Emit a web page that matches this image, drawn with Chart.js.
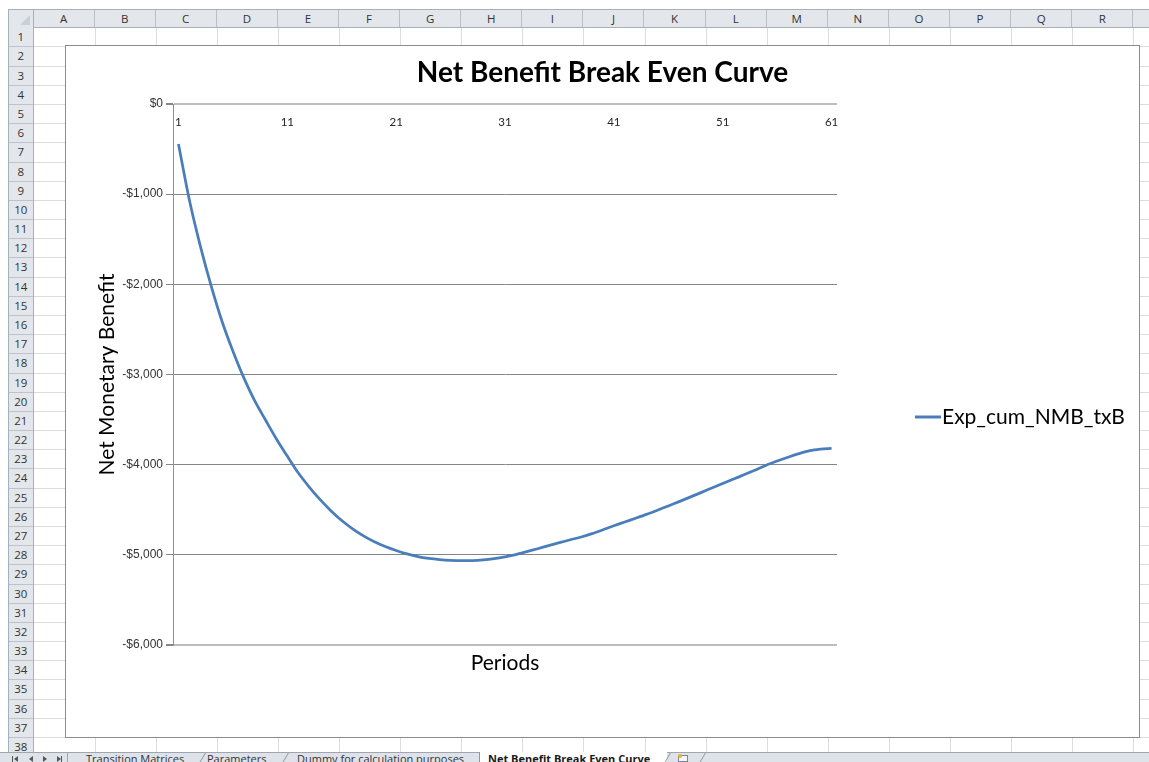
<!DOCTYPE html>
<html>
<head>
<meta charset="utf-8">
<title>Net Benefit Break Even Curve</title>
<script src="https://cdn.jsdelivr.net/npm/chart.js@4.4.1/dist/chart.umd.min.js"></script>
<style>
  html, body { margin: 0; padding: 0; background: #ffffff; }
  #sheet { position: relative; width: 1149px; height: 762px; overflow: hidden; background: #ffffff;
           font-family: "Open Sans", "Noto Sans", sans-serif; }
  #chartBox { position: absolute; left: 65px; top: 45px; width: 1075px; height: 693px;
              box-sizing: border-box; border: 1px solid #8c8c8c; background: #ffffff; }
  #chartBox canvas { display: block; }
</style>
</head>
<body>
<div id="sheet">
  <div id="chartBox"><canvas id="chart" width="1073" height="691"></canvas></div>
</div>
<script>
// ---- chart data ----
const periods = [
  1, 2, 3, 4, 5, 6, 7, 8, 9, 10,
  11, 12, 13, 14, 15, 16, 17, 18, 19, 20,
  21, 22, 23, 24, 25, 26, 27, 28, 29, 30,
  31, 32, 33, 34, 35, 36, 37, 38, 39, 40,
  41, 42, 43, 44, 45, 46, 47, 48, 49, 50,
  51, 52, 53, 54, 55, 56, 57, 58, 59, 60,
  61
];
const expCumNmbTxB = [
  -443, -1062, -1570, -2015, -2410, -2740, -3035, -3290, -3505, -3715,
  -3905, -4090, -4245, -4385, -4510, -4620, -4712, -4790, -4855, -4908,
  -4952, -4990, -5020, -5040, -5053, -5061, -5065, -5064, -5056, -5042,
  -5022, -4997, -4965, -4932, -4898, -4865, -4833, -4802, -4765, -4722,
  -4678, -4636, -4594, -4551, -4505, -4458, -4410, -4360, -4310, -4258,
  -4208, -4160, -4110, -4058, -4006, -3960, -3917, -3878, -3845, -3828,
  -3818
];
const periodTickLabels = [1, 11, 21, 31, 41, 51, 61];
const seriesName = 'Exp_cum_NMB_txB';
const chartTitle = 'Net Benefit Break Even Curve';
const yAxisTitle = 'Net Monetary Benefit';
const xAxisTitle = 'Periods';

// ---- worksheet frame (headers, cell grid, sheet tabs) ----
const sheet = document.getElementById('sheet');
const chartBox = document.getElementById('chartBox');
function box(x, y, w, h, css, text, before) {
  const d = document.createElement('div');
  d.style.cssText = `position:absolute;left:${x}px;top:${y}px;width:${w}px;height:${h}px;box-sizing:border-box;${css || ''}`;
  if (text != null) d.textContent = text;
  if (before) sheet.insertBefore(d, before); else sheet.appendChild(d);
  return d;
}
const colLetters = ['A','B','C','D','E','F','G','H','I','J','K','L','M','N','O','P','Q','R','S'];
const colX0 = 33.5, colW = 61.1;
const hdrTop = 9, hdrBottom = 27.3;
const rowTop0 = 27.3, rowH = 19.18, rowCount = 38;

// cell grid lines
colLetters.forEach((c, i) => {
  const x = colX0 + colW * (i + 1);
  box(x, hdrBottom, 1, 762 - hdrBottom, 'background:#dadcdf', null, chartBox);
});
for (let r = 1; r <= rowCount; r++) {
  const y = rowTop0 + rowH * r;
  box(33.5, y, 1149 - 33.5, 1, 'background:#dadcdf', null, chartBox);
}
// column header band
box(8, hdrTop, 1149 - 8, hdrBottom - hdrTop + 1,
    'background:#e3e7ec;border-top:1px solid #a7afb9;border-bottom:1px solid #a7afb9', null, chartBox);
colLetters.forEach((c, i) => {
  const x = colX0 + colW * i;
  box(x, hdrTop + 1, colW, hdrBottom - hdrTop - 1,
      'border-right:1px solid #b8bfc8;font-size:11.5px;line-height:17px;text-align:center;color:#333', c, chartBox);
});
// corner cell with triangle
box(8, hdrTop, 25.5, hdrBottom - hdrTop + 1,
    'background:#e3e7ec;border:1px solid #a7afb9', null, chartBox);
box(20, hdrTop + 6, 0, 0,
    'border-left:10px solid transparent;border-bottom:10px solid #c9cfd6', null, chartBox);
// row header band
box(8, hdrBottom, 25.5, 762 - hdrBottom,
    'background:#e3e7ec;border-left:1px solid #a7afb9;border-right:1px solid #a7afb9', null, chartBox);
for (let r = 1; r <= rowCount; r++) {
  const y = rowTop0 + rowH * (r - 1);
  box(8, y, 25.5, rowH + 1,
      'border-bottom:1px solid #bcc3cc;border-left:1px solid #a7afb9;border-right:1px solid #a7afb9;font-size:11.5px;line-height:19px;text-align:center;color:#333',
      String(r), chartBox);
}
// sheet tab bar
box(0, 752, 1149, 10, 'background:#dfe3e9;border-top:1px solid #9ea6b0');
// navigation arrows
box(12, 756, 1, 6, 'background:#555');
box(14, 756, 0, 0, 'border-top:3px solid transparent;border-bottom:3px solid transparent;border-right:4px solid #555');
box(29, 756, 0, 0, 'border-top:3px solid transparent;border-bottom:3px solid transparent;border-right:4px solid #555');
box(43, 756, 0, 0, 'border-top:3px solid transparent;border-bottom:3px solid transparent;border-left:4px solid #555');
box(57, 756, 0, 0, 'border-top:3px solid transparent;border-bottom:3px solid transparent;border-left:4px solid #555');
box(61, 756, 1, 6, 'background:#555');
box(67, 752, 1, 10, 'background:#9ea6b0');
// inactive / active tabs
const tabCss = 'font-size:11px;line-height:15px;color:#333;white-space:nowrap';
box(86, 751, 100, 15, tabCss, 'Transition Matrices');
box(202, 753, 1, 10, 'background:#8e96a0;transform:skewX(-30deg)');
box(207, 751, 70, 15, tabCss, 'Parameters');
box(285, 753, 1, 10, 'background:#8e96a0;transform:skewX(-30deg)');
box(297, 751, 170, 15, tabCss, 'Dummy for calculation purposes');
box(479, 752, 188, 10, 'background:#ffffff;border-left:1px solid #8e96a0');
box(488, 751, 180, 15, tabCss + ';font-weight:bold;color:#1a1a1a', 'Net Benefit Break Even Curve');
box(667, 753, 1, 10, 'background:#8e96a0;transform:skewX(-30deg)');
box(678, 755, 10, 7, 'border:1px solid #7d8794;background:#f4f6f8');
box(678, 754, 4, 4, 'background:#e8b030;border-radius:2px');
box(702, 753, 1, 10, 'background:#8e96a0;transform:skewX(-30deg)');

// ---- chart ----
const lineColor = '#4a7ebb';

// category labels sit just under the top axis line, and the legend entry at the right
const innerAxisAndLegend = {
  id: 'innerAxisAndLegend',
  afterDraw(chart) {
    const { ctx, chartArea, scales: { x } } = chart;
    ctx.save();
    ctx.font = '11.5px Lato';
    ctx.fillStyle = '#262626';
    ctx.textAlign = 'center';
    ctx.textBaseline = 'middle';
    periodTickLabels.forEach(p => {
      const i = periods.indexOf(p);
      ctx.fillText(String(p), x.getPixelForValue(i), chartArea.top + 18);
    });
    // legend entry
    const ly = 371, lx = 849;
    ctx.strokeStyle = lineColor;
    ctx.lineWidth = 3;
    ctx.beginPath();
    ctx.moveTo(lx, ly);
    ctx.lineTo(lx + 26, ly);
    ctx.stroke();
    ctx.font = '21px Lato';
    ctx.fillStyle = '#000000';
    ctx.textAlign = 'left';
    ctx.fillText(seriesName, lx + 27, ly);
    ctx.restore();
  }
};

function isEdgeTick(v) { return v === 0 || v === -6000; }

new Chart(document.getElementById('chart'), {
  type: 'line',
  data: {
    labels: periods.map(String),
    datasets: [{
      label: seriesName,
      data: expCumNmbTxB,
      borderColor: lineColor,
      borderWidth: 2.75,
      pointRadius: 0,
      tension: 0.3,
      fill: false
    }]
  },
  options: {
    responsive: false,
    animation: false,
    events: [],
    layout: { padding: { left: 0, right: 0, top: 0, bottom: 61.4 } },
    plugins: {
      legend: { display: false },
      tooltip: { enabled: false },
      title: {
        display: true,
        text: chartTitle,
        color: '#000000',
        font: { family: 'Lato', size: 28, weight: 'bold', lineHeight: 1.2 },
        padding: { top: 10.2, bottom: 14.2 }
      }
    },
    scales: {
      x: {
        type: 'category',
        offset: true,
        position: 'bottom',
        ticks: { display: false },
        grid: { display: false, drawTicks: false },
        border: { display: false },
        title: {
          display: true,
          text: xAxisTitle,
          color: '#000000',
          font: { family: 'Lato', size: 21, lineHeight: 1.2 },
          padding: { top: 5.4, bottom: 0 }
        }
      },
      y: {
        min: -6000,
        max: 0,
        afterFit(scale) { scale.width = 107; },
        ticks: {
          stepSize: 1000,
          padding: 3,
          color: '#333333',
          font: { family: 'Liberation Sans', size: 12 },
          callback(v) {
            return v === 0 ? '$0' : '-$' + Math.abs(v).toLocaleString('en-US');
          }
        },
        grid: {
          color: ctx => (ctx.tick && isEdgeTick(ctx.tick.value)) ? '#bdbdbd' : '#868686',
          lineWidth: ctx => (ctx.tick && isEdgeTick(ctx.tick.value)) ? 2 : 1,
          tickColor: '#868686',
          tickLength: 7
        },
        border: { display: true, color: '#8f8f8f', width: 1 },
        title: {
          display: true,
          text: yAxisTitle,
          color: '#000000',
          font: { family: 'Lato', size: 21, lineHeight: 1.2 },
          padding: { top: 28.4, bottom: 0 }
        }
      },
      // empty right-hand band that keeps the plot clear of the legend column
      legendSpace: {
        type: 'linear',
        position: 'right',
        display: true,
        afterFit(scale) { scale.width = 302; },
        ticks: { display: false },
        grid: { display: false, drawTicks: false },
        border: { display: false }
      }
    }
  },
  plugins: [innerAxisAndLegend]
});
</script>
</body>
</html>
